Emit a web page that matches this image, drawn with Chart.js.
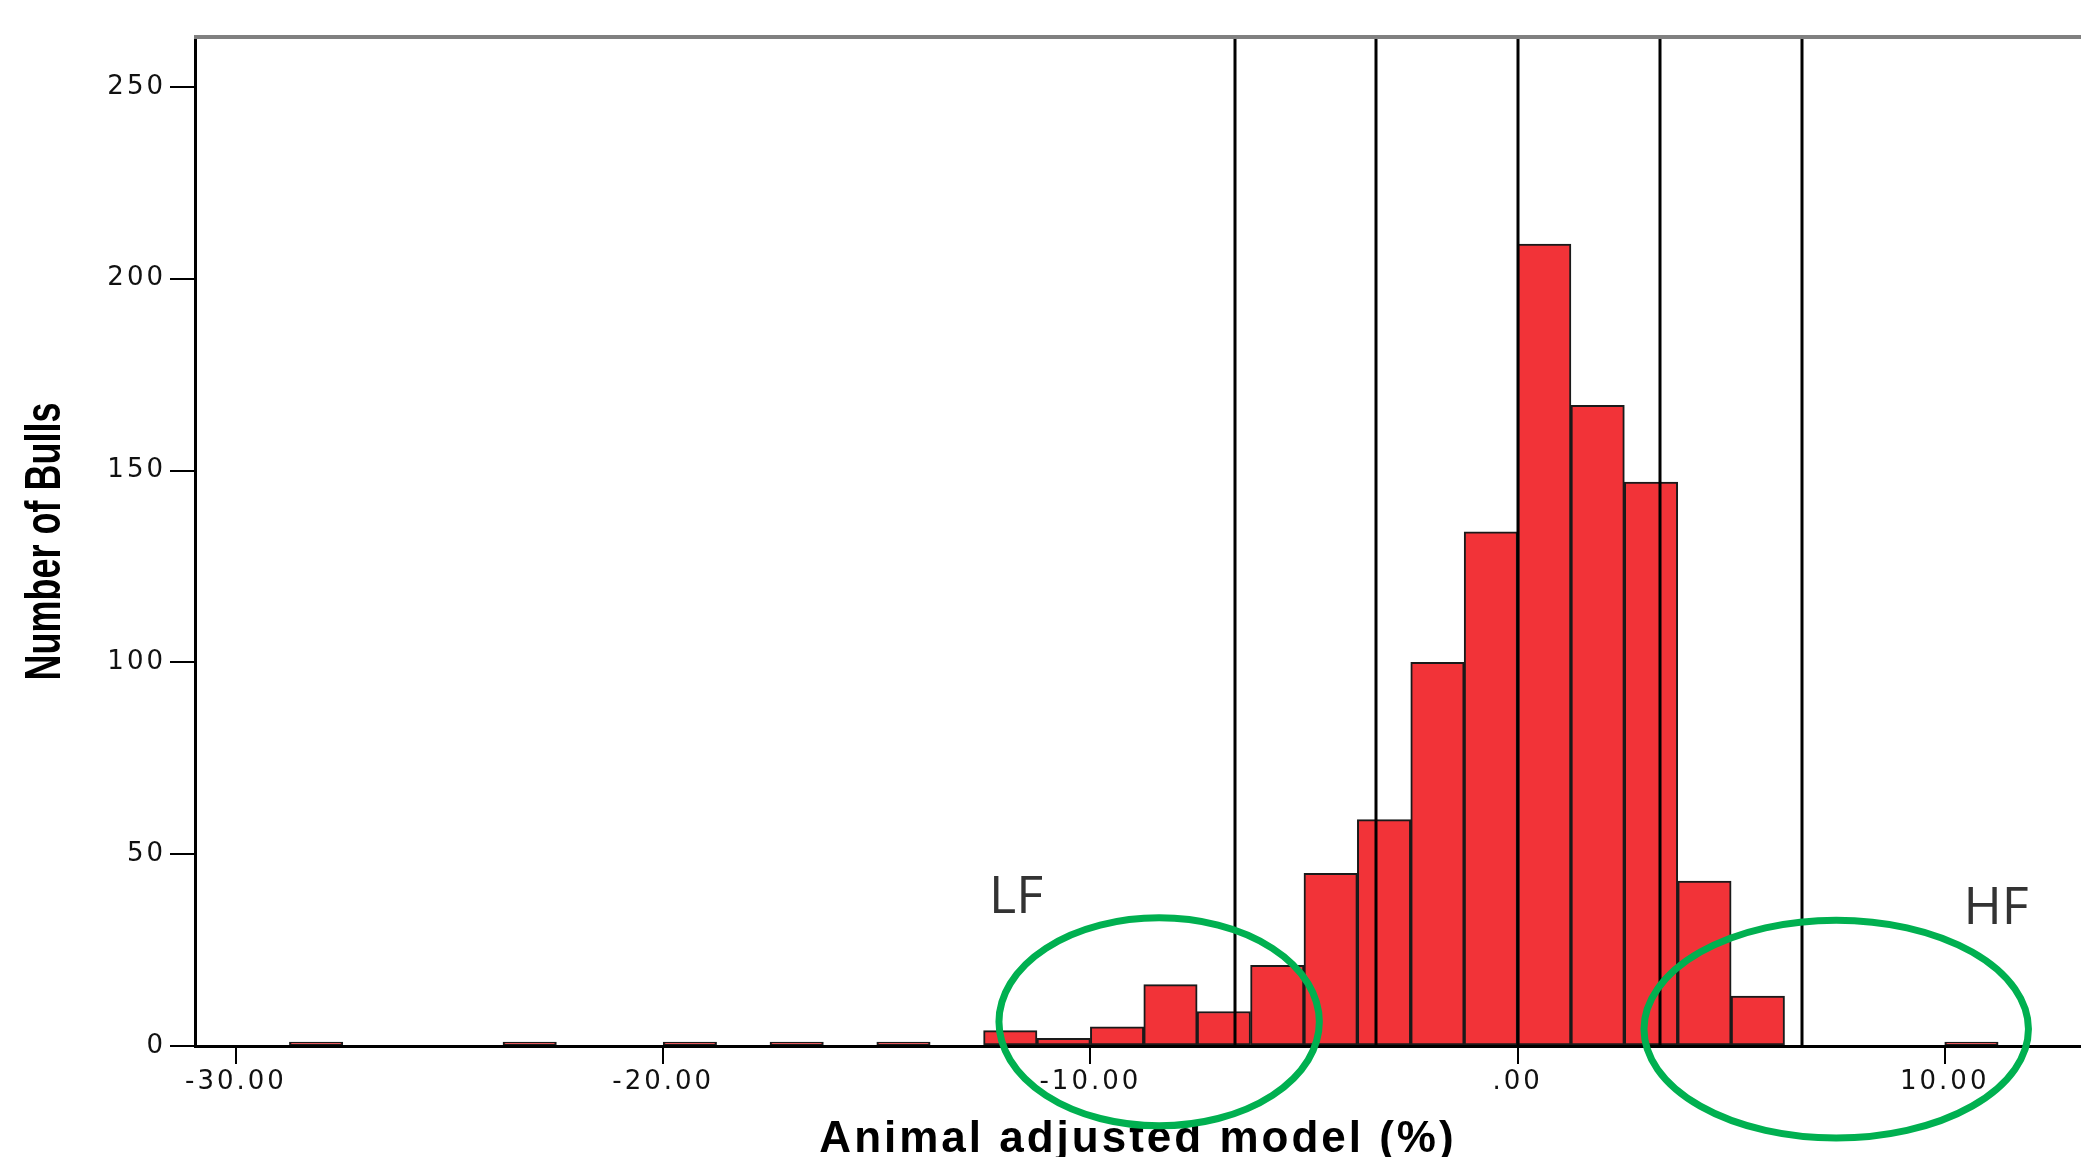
<!DOCTYPE html>
<html>
<head>
<meta charset="UTF-8">
<title>Number of Bulls - Animal adjusted model</title>
<script src="https://cdn.jsdelivr.net/npm/chart.js@4.4.1/dist/chart.umd.min.js"></script>
<style>
  body { margin: 0; background: #fff; }
  #wrap { position: relative; width: 2081px; height: 1157px; }
</style>
</head>
<body>
<div id="wrap"><canvas id="hist"></canvas></div>
<script>
// histogram bins (width 1.25), centre of each bin and number of bulls in it
var binCenters = [-28.125, -23.125, -19.375, -16.875, -14.375, -11.875, -10.625, -9.375, -8.125, -6.875,
                  -5.625, -4.375, -3.125, -1.875, -0.625, 0.625, 1.875, 3.125, 4.375, 5.625, 10.625];
var bullCounts = [1, 1, 1, 1, 1, 4, 2, 5, 16, 9,
                  21, 45, 59, 100, 134, 209, 167, 147, 43, 13, 1];
var xTicks = [-30, -20, -10, 0, 10];
var yTicks = [0, 50, 100, 150, 200, 250];
// mean, +-1 SD and +-2 SD
var sdLines = [-6.62, -3.31, 0.02, 3.33, 6.65];
var groupLabels = ['LF', 'HF'];

// annotation placement, in axis units
var notes = [
  { text: groupLabels[0], tx: -11.74, ty: 38.6, cx: -8.39, cy: 6.3, rx: 3.75, ry: 27.1 },
  { text: groupLabels[1], tx: 11.2, ty: 35.7, cx: 7.46, cy: 4.4, rx: 4.5, ry: 28.4 }
];

var overlay = {
  id: 'overlay',
  beforeDraw: function (chart) {
    chart.ctx.letterSpacing = '3px';
  },
  afterDatasetsDraw: function (chart) {
    var ctx = chart.ctx, a = chart.chartArea, xs = chart.scales.x;
    ctx.save();
    ctx.strokeStyle = '#000';
    ctx.lineWidth = 3;
    sdLines.forEach(function (v) {
      var px = Math.round(xs.getPixelForValue(v));
      ctx.beginPath();
      ctx.moveTo(px, a.top);
      ctx.lineTo(px, a.bottom);
      ctx.stroke();
    });
    ctx.restore();
  },
  afterDraw: function (chart) {
    var ctx = chart.ctx, a = chart.chartArea, xs = chart.scales.x, ys = chart.scales.y;
    ctx.save();
    ctx.letterSpacing = '0px';

    // grey frame line on top
    ctx.strokeStyle = '#808080';
    ctx.lineWidth = 4;
    ctx.beginPath();
    ctx.moveTo(a.left - 1, a.top);
    ctx.lineTo(a.right, a.top);
    ctx.stroke();

    // y title, condensed bold
    ctx.save();
    ctx.font = 'bold 50px "Liberation Sans Narrow", "Liberation Sans", Arial, sans-serif';
    var t = 'Number of Bulls';
    var w = ctx.measureText(t).width;
    ctx.translate(46, (a.top + a.bottom) / 2);
    ctx.rotate(-Math.PI / 2);
    ctx.scale(278 / w, 1);
    ctx.fillStyle = '#000';
    ctx.textAlign = 'center';
    ctx.textBaseline = 'middle';
    ctx.fillText(t, 0, 0);
    ctx.restore();

    // LF / HF rings
    notes.forEach(function (n) {
      var cx = xs.getPixelForValue(n.cx), cy = ys.getPixelForValue(n.cy);
      var rx = Math.abs(xs.getPixelForValue(n.cx + n.rx) - cx);
      var ry = Math.abs(ys.getPixelForValue(n.cy + n.ry) - cy);
      ctx.strokeStyle = '#00B050';
      ctx.lineWidth = 7;
      ctx.beginPath();
      ctx.ellipse(cx, cy, rx, ry, 0, 0, Math.PI * 2);
      ctx.stroke();
      ctx.fillStyle = '#333';
      ctx.font = '52px "Open Sans", sans-serif';
      ctx.textAlign = 'center';
      ctx.textBaseline = 'middle';
      ctx.fillText(n.text, xs.getPixelForValue(n.tx), ys.getPixelForValue(n.ty));
    });
    ctx.restore();
    chart.ctx.letterSpacing = '0px';
  }
};

new Chart(document.getElementById('hist'), {
  type: 'bar',
  data: {
    datasets: [{
      label: 'Number of Bulls',
      data: binCenters.map(function (c, i) { return { x: c, y: bullCounts[i] }; }),
      backgroundColor: '#F23338',
      borderColor: '#1a1a1a',
      borderWidth: 2,
      borderSkipped: false,
      barPercentage: 1,
      categoryPercentage: 1,
      grouped: false
    }]
  },
  options: {
    responsive: true,
    maintainAspectRatio: false,
    animation: false,
    layout: { padding: { top: 37, right: 0, bottom: 0, left: 0 } },
    plugins: {
      legend: { display: false },
      tooltip: { enabled: false }
    },
    scales: {
      x: {
        type: 'linear',
        min: -30.96,
        max: 13.19,
        offset: false,
        afterBuildTicks: function (s) { s.ticks = xTicks.map(function (v) { return { value: v }; }); },
        afterFit: function (s) { s.height = 111; },
        grid: { offset: false, drawOnChartArea: false, drawTicks: true, tickLength: 18, color: '#000', lineWidth: 2 },
        border: { display: true, color: '#000', width: 3, z: 1 },
        ticks: {
          autoSkip: false,
          maxRotation: 0,
          padding: 3,
          color: '#111',
          font: { family: 'DejaVu Sans', size: 26 },
          callback: function (v) { return v === 0 ? '.00' : v.toFixed(2); }
        },
        title: {
          display: true,
          text: 'Animal adjusted model (%)',
          color: '#000',
          font: { family: '"Liberation Sans", Arial, sans-serif', size: 44, weight: 'bold', lineHeight: 0.8 },
          padding: { top: 0, bottom: 0 }
        }
      },
      y: {
        min: 0,
        max: 263,
        afterBuildTicks: function (s) { s.ticks = yTicks.map(function (v) { return { value: v }; }); },
        afterFit: function (s) { s.width = 195; },
        grid: { drawOnChartArea: false, drawTicks: true, tickLength: 25, color: '#000', lineWidth: 2 },
        border: { display: true, color: '#000', width: 3, z: 1 },
        ticks: {
          padding: 4,
          color: '#111',
          font: { family: 'DejaVu Sans', size: 26 }
        },
        title: { display: false, text: 'Number of Bulls' }
      }
    }
  },
  plugins: [overlay]
});
</script>
</body>
</html>
